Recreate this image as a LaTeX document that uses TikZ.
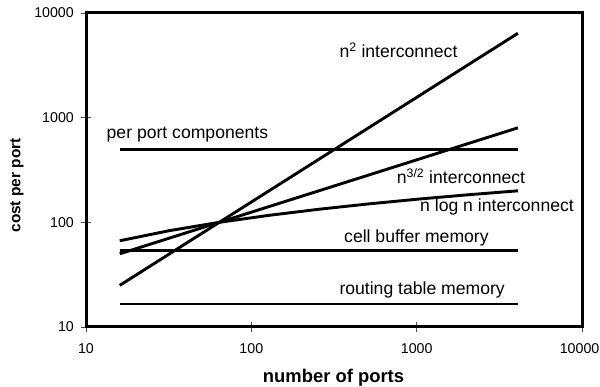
\documentclass[tikz,border=0pt]{standalone}
\usepackage{fontspec}
\setmainfont{Liberation Sans}
\begin{document}
\begin{tikzpicture}[x=1pt,y=-1pt,
  axisline/.style={line width=3pt,line cap=rect},
  tickmark/.style={line width=0.9pt,gray!60!black},
  curve/.style={line width=2.9pt,line join=round},
  ticklab/.style={font=\fontsize{14.2}{16}\selectfont,inner sep=0pt},
  lab/.style={font=\fontsize{17.6}{20}\selectfont,inner sep=0pt,anchor=base west},
  xtitle/.style={font=\bfseries\fontsize{18.4}{22}\selectfont,inner sep=0pt},
  ytitle/.style={font=\bfseries\fontsize{15.4}{18}\selectfont,inner sep=0pt}]
\useasboundingbox (0,0) rectangle (600,387);

% plot frame corners
\coordinate (bl) at (86,327);
\coordinate (tr) at (582,13);

% tick marks
\foreach \yy in {13,117.67,222.33,327} \draw[tickmark] (81,\yy) -- (91,\yy);
\foreach \xx in {86,251.33,416.67,582} \draw[tickmark] (\xx,322) -- (\xx,332);

% frame
\draw[axisline] (bl) rectangle (tr);

% y tick labels
\node[ticklab,anchor=east] (y4) at (74,13) {10000};
\node[ticklab,anchor=east] (y3) at (74,117.67) {1000};
\node[ticklab,anchor=east] (y2) at (74,222.33) {100};
\node[ticklab,anchor=east] (y1) at (74,327) {10};

% x tick labels
\node[ticklab] (x1) at (86,348.5) {10};
\node[ticklab] (x2) at (251.33,348.5) {100};
\node[ticklab] (x3) at (416.67,348.5) {1000};
\node[ticklab,anchor=east] (x4) at (599.5,348.5) {10000};

% axis titles
\node[xtitle,anchor=base] (xt) at (333.5,382.7) {number of ports};
\node[ytitle,rotate=90] (yt) at (17,185.5) {cost per port};

% end points of the cost lines
\coordinate (pp1) at (119.75,149.17); \coordinate (pp2) at (517.91,149.17);
\coordinate (cb1) at (119.75,250.8);  \coordinate (cb2) at (517.91,250.8);
\coordinate (rt1) at (119.75,304);    \coordinate (rt2) at (517.91,304);
\coordinate (sq1) at (119.75,285.35); \coordinate (sq2) at (517.91,33.28);
\coordinate (th1) at (119.75,253.83); \coordinate (th2) at (517.91,127.81);

% horizontal cost lines
\draw[curve] (pp1) -- (pp2);
\draw[curve] (cb1) -- (cb2);
\draw[curve] (rt1) -- (rt2);

% interconnect curves
\draw[curve] (sq1) -- (sq2);
\draw[curve] (th1) -- (th2);
\draw[curve] (119.75,240.76) -- (169.52,230.62) -- (219.29,222.33)
  -- (269.06,215.32) -- (318.83,209.26) -- (368.60,203.90)
  -- (418.37,199.11) -- (468.14,194.78) -- (517.91,190.82);

% curve labels
\node[lab] (lsq) at (339.3,57.3) {n\textsuperscript{2} interconnect};
\node[lab] (lpp) at (106.5,139) {per port components};
\node[lab] (lth) at (396.7,183.3) {n\textsuperscript{3/2} interconnect};
\node[lab] (lnl) at (420,211.7) {n log n interconnect};
\node[lab] (lcb) at (344,242.7) {cell buffer memory};
\node[lab] (lrt) at (339.3,295) {routing table memory};
\end{tikzpicture}
\end{document}
